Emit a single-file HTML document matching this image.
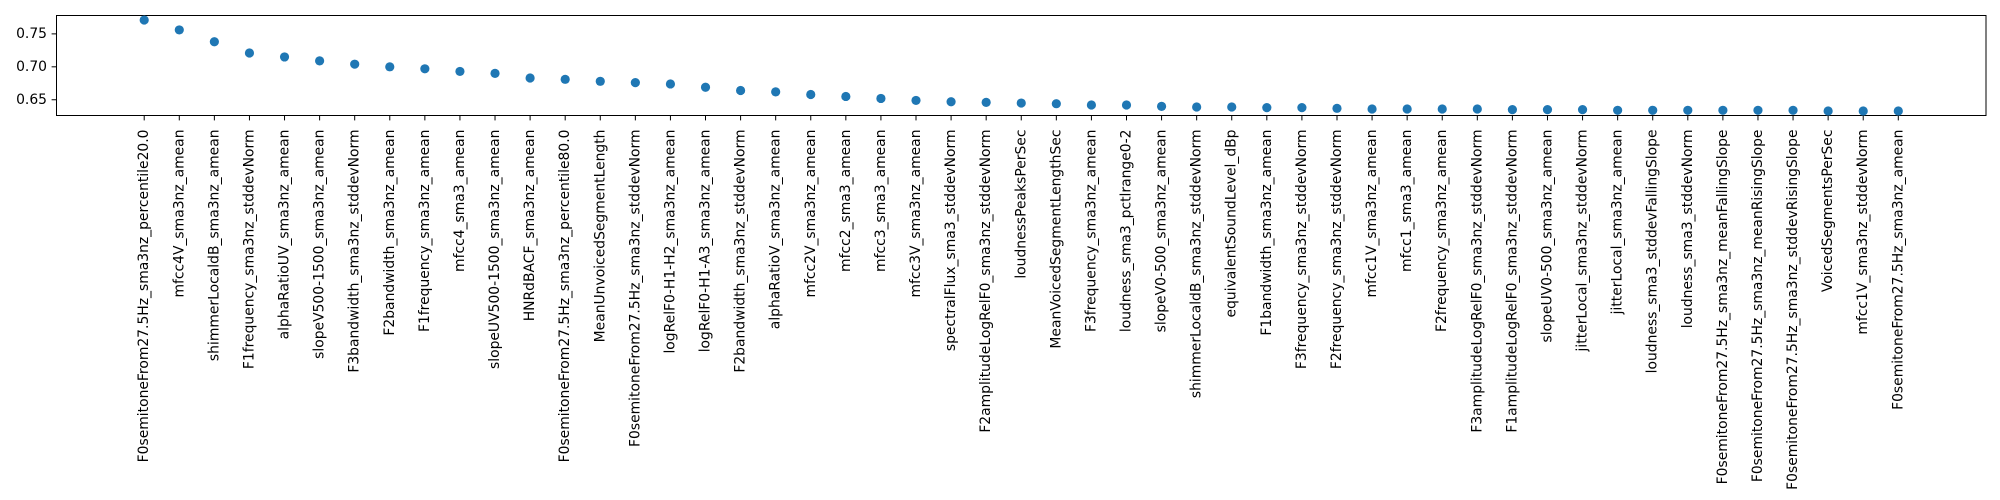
<!DOCTYPE html>
<html><head><meta charset="utf-8"><style>
html,body{margin:0;padding:0;background:#fff;}
svg{display:block;font-family:"DejaVu Sans","Liberation Sans",sans-serif;}
</style></head><body>
<svg id="chart" width="2000" height="500" viewBox="0 0 2000 500" xmlns="http://www.w3.org/2000/svg"></svg>
<script>
const categories = ["F0semitoneFrom27.5Hz_sma3nz_percentile20.0","mfcc4V_sma3nz_amean","shimmerLocaldB_sma3nz_amean","F1frequency_sma3nz_stddevNorm","alphaRatioUV_sma3nz_amean","slopeV500-1500_sma3nz_amean","F3bandwidth_sma3nz_stddevNorm","F2bandwidth_sma3nz_amean","F1frequency_sma3nz_amean","mfcc4_sma3_amean","slopeUV500-1500_sma3nz_amean","HNRdBACF_sma3nz_amean","F0semitoneFrom27.5Hz_sma3nz_percentile80.0","MeanUnvoicedSegmentLength","F0semitoneFrom27.5Hz_sma3nz_stddevNorm","logRelF0-H1-H2_sma3nz_amean","logRelF0-H1-A3_sma3nz_amean","F2bandwidth_sma3nz_stddevNorm","alphaRatioV_sma3nz_amean","mfcc2V_sma3nz_amean","mfcc2_sma3_amean","mfcc3_sma3_amean","mfcc3V_sma3nz_amean","spectralFlux_sma3_stddevNorm","F2amplitudeLogRelF0_sma3nz_stddevNorm","loudnessPeaksPerSec","MeanVoicedSegmentLengthSec","F3frequency_sma3nz_amean","loudness_sma3_pctlrange0-2","slopeV0-500_sma3nz_amean","shimmerLocaldB_sma3nz_stddevNorm","equivalentSoundLevel_dBp","F1bandwidth_sma3nz_amean","F3frequency_sma3nz_stddevNorm","F2frequency_sma3nz_stddevNorm","mfcc1V_sma3nz_amean","mfcc1_sma3_amean","F2frequency_sma3nz_amean","F3amplitudeLogRelF0_sma3nz_stddevNorm","F1amplitudeLogRelF0_sma3nz_stddevNorm","slopeUV0-500_sma3nz_amean","jitterLocal_sma3nz_stddevNorm","jitterLocal_sma3nz_amean","loudness_sma3_stddevFallingSlope","loudness_sma3_stddevNorm","F0semitoneFrom27.5Hz_sma3nz_meanFallingSlope","F0semitoneFrom27.5Hz_sma3nz_meanRisingSlope","F0semitoneFrom27.5Hz_sma3nz_stddevRisingSlope","VoicedSegmentsPerSec","mfcc1V_sma3nz_stddevNorm","F0semitoneFrom27.5Hz_sma3nz_amean"];
const values = [0.771,0.756,0.738,0.721,0.715,0.709,0.704,0.700,0.697,0.693,0.690,0.683,0.681,0.678,0.676,0.674,0.669,0.664,0.662,0.658,0.655,0.652,0.649,0.647,0.646,0.645,0.644,0.642,0.642,0.640,0.639,0.639,0.638,0.638,0.637,0.636,0.636,0.636,0.636,0.635,0.635,0.635,0.634,0.634,0.634,0.634,0.634,0.634,0.633,0.633,0.633];
const yTicks = [0.65,0.70,0.75];
const yTickLabels = ["0.65","0.70","0.75"];

const NS="http://www.w3.org/2000/svg";
const svg=document.getElementById('chart');
const L=56.5,R=1986,T=15.5,B=115.5;
const n=categories.length;
const xMin=-0.05*(n-1),xMax=(n-1)*1.05;
const vmin=Math.min(...values),vmax=Math.max(...values),pad=(vmax-vmin)*0.05;
const yMin=vmin-pad,yMax=vmax+pad;
const xs=i=>L+(i-xMin)/(xMax-xMin)*(R-L);
const ys=v=>B-(v-yMin)/(yMax-yMin)*(B-T);
function mk(tag,attrs){const e=document.createElementNS(NS,tag);for(const k in attrs)e.setAttribute(k,attrs[k]);return e;}

const frame=mk('rect',{x:L,y:T,width:R-L,height:B-T,fill:'none',stroke:'#000','stroke-width':1});


svg.appendChild(frame);

yTicks.forEach((t,i)=>{
  const y=ys(t);
  const tk=mk('line',{x1:L-4.9,x2:L,y1:y,y2:y,stroke:'#000','stroke-width':1});
  
  
  svg.appendChild(tk);
  const tx=mk('text',{x:L-9.5,y:y,'text-anchor':'end','dominant-baseline':'central','font-size':'13.9px',fill:'#000'});
  tx.textContent=yTickLabels[i];
  
  
  svg.appendChild(tx);
});

categories.forEach((c,i)=>{
  const x=xs(i);
  const tk=mk('line',{x1:x,x2:x,y1:B,y2:B+4.9,stroke:'#000','stroke-width':1});
  
  
  svg.appendChild(tk);
  const y0=B+14;
  const tx=mk('text',{x:x,y:y0,'text-anchor':'end','dominant-baseline':'central','font-size':'13.9px',fill:'#000',transform:`rotate(-90 ${x} ${y0})`});
  tx.textContent=c;
  
  
  svg.appendChild(tx);
});

values.forEach((v,i)=>{
  const p=mk('circle',{cx:xs(i),cy:ys(v),r:4.6,fill:'#1f77b4'});
  
  
  svg.appendChild(p);
});
</script>
</body></html>
